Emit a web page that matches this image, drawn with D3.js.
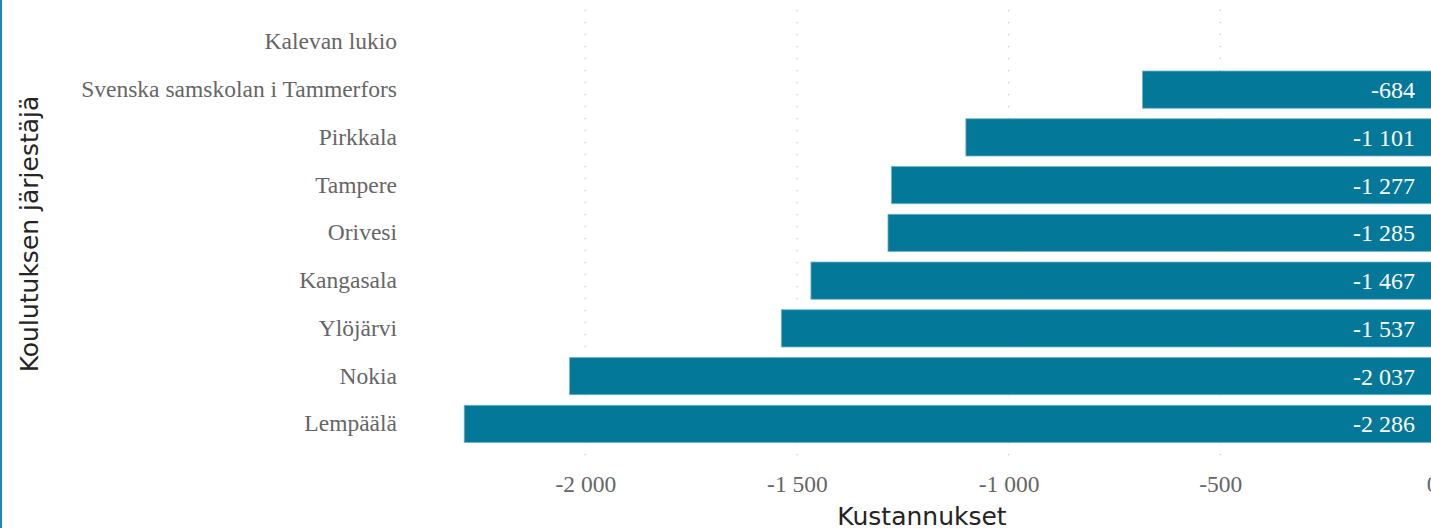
<!DOCTYPE html>
<html>
<head>
<meta charset="utf-8">
<script src="https://cdn.jsdelivr.net/npm/d3@7"></script>
<style>
  body { margin: 0; background: #fff; }
  #chart { position: relative; width: 1431px; height: 528px; overflow: hidden; }
</style>
</head>
<body>
<div id="chart"></div>
<script>
// data
const categories = ["Kalevan lukio", "Svenska samskolan i Tammerfors", "Pirkkala", "Tampere",
    "Orivesi", "Kangasala", "Ylöjärvi", "Nokia", "Lempäälä"];
const costs = [null, -684, -1101, -1277, -1285, -1467, -1537, -2037, -2286];
const tickValues = [-2000, -1500, -1000, -500, 0];

const W = 1431, H = 528;
const margin = {top: 18, left: 407};

const svg = d3.select("#chart")
    .append("svg")
    .attr("width", W)
    .attr("height", H);

// left edge border
svg.append("rect")
    .attr("x", 0).attr("y", 0)
    .attr("width", 2).attr("height", H)
    .attr("fill", "#1a8aa8");

const x = d3.scaleLinear()
    .domain([-2290, 0])
    .range([462.5, 1432]);

const y = d3.scaleBand()
    .domain(categories)
    .range([margin.top, margin.top + 9 * 47.75])
    .paddingInner(0.22)
    .paddingOuter(0.11);

// dotted gridlines
svg.append("g")
    .selectAll("line")
    .data(tickValues)
    .join("line")
    .attr("x1", d => x(d)).attr("x2", d => x(d))
    .attr("y1", 10).attr("y2", 466)
    .attr("stroke", "#c8c8c8")
    .attr("stroke-width", 1.3)
    .attr("stroke-dasharray", "1.3,10.7");

// number format: hyphen minus, space as thousands separator
const fmt = v => d3.format(",")(v).replace(/,/g, " ").replace("\u2212", "-");

// x axis tick labels
const xAxis = svg.append("g")
    .attr("transform", `translate(0, 475.5)`)
    .call(d3.axisBottom(x).tickValues(tickValues).tickFormat(fmt).tickSize(0).tickPadding(0));
xAxis.select(".domain").remove();
xAxis.selectAll("text")
    .attr("dy", "0.71em")
    .attr("font-family", "'Liberation Serif', serif")
    .attr("font-size", 23.5)
    .attr("fill", "#666");

// y axis category labels
const yAxis = svg.append("g")
    .attr("transform", `translate(${margin.left}, 0)`)
    .call(d3.axisLeft(y).tickSize(0).tickPadding(10));
yAxis.select(".domain").remove();
yAxis.selectAll("text")
    .attr("font-family", "'Liberation Serif', serif")
    .attr("font-size", 23.5)
    .attr("fill", "#666");

// bars
const rows = categories.map((c, i) => ({name: c, value: costs[i]})).filter(d => d.value != null);
svg.append("g")
    .selectAll("rect")
    .data(rows)
    .join("rect")
    .attr("x", d => x(d.value))
    .attr("y", d => y(d.name))
    .attr("width", d => x(0) - x(d.value))
    .attr("height", y.bandwidth())
    .attr("fill", "#037899")
    .attr("stroke", "#6fb6cb")
    .attr("stroke-width", 0.8);

// value labels
svg.append("g")
    .selectAll("text")
    .data(rows)
    .join("text")
    .attr("x", 1415)
    .attr("y", d => y(d.name) + y.bandwidth() / 2)
    .attr("dy", "0.35em")
    .attr("text-anchor", "end")
    .attr("font-family", "'Liberation Serif', serif")
    .attr("font-size", 24)
    .attr("fill", "#fff")
    .text(d => fmt(d.value));

// axis titles
svg.append("text")
    .attr("x", 922)
    .attr("y", 525)
    .attr("text-anchor", "middle")
    .attr("font-family", "'DejaVu Sans', sans-serif")
    .attr("font-size", 25)
    .attr("fill", "#252423")
    .text("Kustannukset");

svg.append("text")
    .attr("transform", "translate(38, 234) rotate(-90)")
    .attr("text-anchor", "middle")
    .attr("font-family", "'DejaVu Sans', sans-serif")
    .attr("font-size", 25)
    .attr("fill", "#252423")
    .text("Koulutuksen järjestäjä");
</script>
</body>
</html>
